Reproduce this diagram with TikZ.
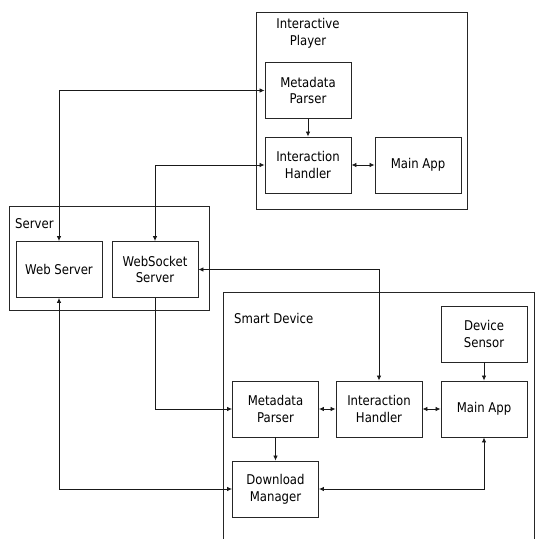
\documentclass[tikz,border=0pt]{standalone}
\usepackage{fontspec}
\setmainfont{DejaVu Sans}[FakeStretch=0.87]
\usetikzlibrary{arrows.meta}
\begin{document}
\begin{tikzpicture}[x=1bp,y=-1bp,
  box/.style={draw=black!85, line width=0.9bp, minimum width=86bp, minimum height=56bp, align=center, inner sep=0pt, font=\fontsize{13.5}{17}\selectfont},
  grp/.style={draw=black!85, line width=0.9bp},
  lbl/.style={font=\fontsize{13.5}{17}\selectfont, align=center, inner sep=0pt},
  conn/.style={line width=0.8bp, black!90},
  every path/.append style={>={Latex[length=5bp,width=4.5bp]}}]
\useasboundingbox (0,0) rectangle (538,539);
% groups
\draw[grp] (256,12) rectangle (467,209);
\node[lbl] (tIP) at (308,33) {Interactive\\Player};
\draw[grp] (9,206) rectangle (209,310);
\node[lbl, anchor=west] (tS) at (15,224) {Server};
\draw[grp] (223,545) -- (223,292) -- (534,292) -- (534,545);
\node[lbl, anchor=west] (tSD) at (234,318) {Smart Device};
% nodes
\node[box] (MP1) at (308,90.5) {Metadata\\Parser};
\node[box] (IH1) at (308,165) {Interaction\\Handler};
\node[box] (MA1) at (418,165) {Main App};
\node[box] (WS) at (59,269.5) {Web Server};
\node[box] (WSS) at (155,269.5) {WebSocket\\Server};
\node[box] (DS) at (484,334) {Device\\Sensor};
\node[box] (MA2) at (484,409) {Main App};
\node[box] (IH2) at (379,409) {Interaction\\Handler};
\node[box] (MP2) at (275.5,409) {Metadata\\Parser};
\node[box] (DM) at (275.5,489) {Download\\Manager};
% connectors
\draw[conn,<->] (WS.north) |- (MP1.west);
\draw[conn,<->] (WSS.north) |- (IH1.west);
\draw[conn,->] (MP1) -- (IH1);
\draw[conn,<->] (IH1) -- (MA1);
\draw[conn,<->] (WSS.east) -| (IH2.north);
\draw[conn,->] (WSS.south) |- (MP2.west);
\draw[conn,<->] (WS.south) |- (DM.west);
\draw[conn,<->] (MP2) -- (IH2);
\draw[conn,<->] (IH2) -- (MA2);
\draw[conn,->] (DS) -- (MA2);
\draw[conn,->] (MP2) -- (DM);
\draw[conn,<->] (DM.east) -| (MA2.south);
\end{tikzpicture}
\end{document}
